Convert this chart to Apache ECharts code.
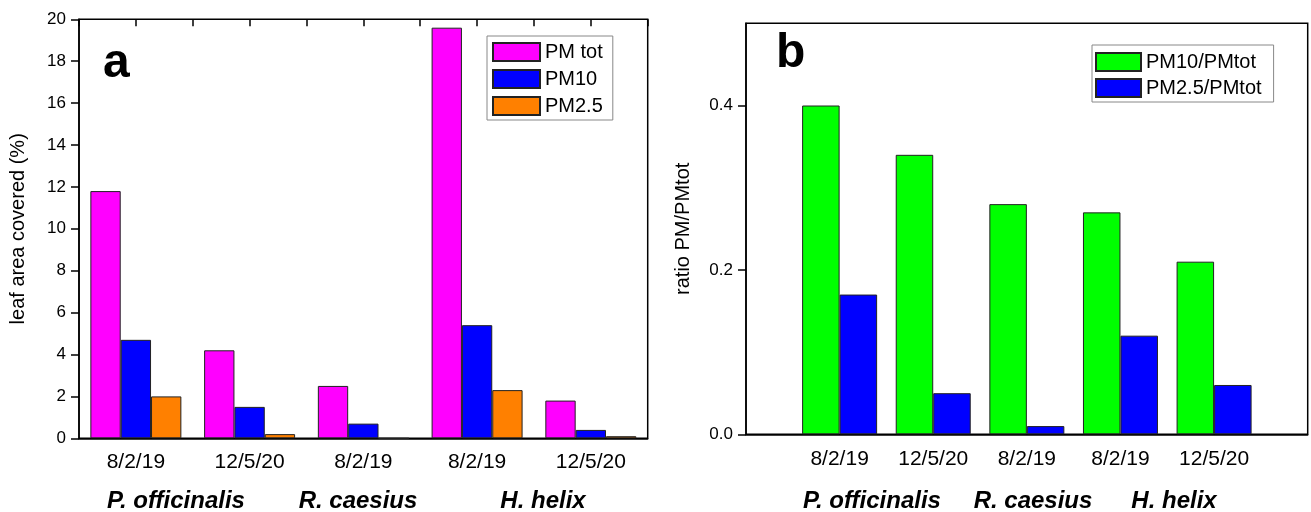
<!DOCTYPE html>
<html><head><meta charset="utf-8">
<script src="https://cdn.jsdelivr.net/npm/echarts@6/dist/echarts.min.js"></script>
<style>html,body{margin:0;padding:0;background:#fff}#c{width:1311px;height:512px}</style>
</head><body><div id="c"></div>
<script>
// ---- data ----
const datesA = ['8/2/19', '12/5/20', '8/2/19', '8/2/19', '12/5/20'];
const pmTot  = [11.8, 4.2, 2.5, 19.6, 1.8];
const pm10   = [4.7, 1.5, 0.7, 5.4, 0.4];
const pm25   = [2.0, 0.2, 0, 2.3, 0.1];
const datesB = ['8/2/19', '12/5/20', '8/2/19', '8/2/19', '12/5/20'];
const ratio10 = [0.40, 0.34, 0.28, 0.27, 0.21];
const ratio25 = [0.17, 0.05, 0.01, 0.12, 0.06];
const yTicksB = [0, 0.2, 0.4];
const speciesA = ['P. officinalis', 'R. caesius', 'H. helix'];
const speciesB = ['P. officinalis', 'R. caesius', 'H. helix'];

const FF = '"Liberation Sans", Arial, sans-serif';
const chart = echarts.init(document.getElementById('c'));
const border = {borderColor: '#222', borderWidth: 1};

const spPosA = [176, 358, 543];
const spPosB = [872, 1033, 1174];
const graphics = [
  {type: 'text', left: 103, top: 40, style: {text: 'a', font: 'bold 48px ' + FF, fill: '#000'}},
  {type: 'text', left: 776, top: 30, style: {text: 'b', font: 'bold 48px ' + FF, fill: '#000'}}
];
speciesA.forEach((s, i) => graphics.push({type: 'text', x: spPosA[i], y: 501,
  style: {text: s, font: 'italic bold 24px ' + FF, fill: '#000', align: 'center', verticalAlign: 'middle'}}));
speciesB.forEach((s, i) => graphics.push({type: 'text', x: spPosB[i], y: 501,
  style: {text: s, font: 'italic bold 24px ' + FF, fill: '#000', align: 'center', verticalAlign: 'middle'}}));

chart.setOption({
  animation: false,
  backgroundColor: '#fff',
  textStyle: {fontFamily: FF, color: '#000'},
  grid: [
    {left: 79, right: 663.3, top: 19.3, bottom: 73.7, show: true, borderColor: '#000', borderWidth: 1.5, backgroundColor: 'transparent'},
    {left: 746, right: 3.3, top: 23.3, bottom: 77.7, show: true, borderColor: '#000', borderWidth: 1.5, backgroundColor: 'transparent'}
  ],
  legend: [
    {orient: 'vertical', left: 487, top: 36, itemWidth: 47, itemHeight: 18, itemGap: 7,
     padding: [6, 10, 4, 5], borderColor: '#888', borderWidth: 1,
     icon: 'rect', data: ['PM tot', 'PM10', 'PM2.5'],
     textStyle: {fontSize: 20, color: '#000', fontFamily: FF}},
    {orient: 'vertical', left: 1092, top: 45, itemWidth: 45, itemHeight: 18, itemGap: 6,
     padding: [7, 12, 4, 3], borderColor: '#888', borderWidth: 1,
     icon: 'rect', data: ['PM10/PMtot', 'PM2.5/PMtot'],
     textStyle: {fontSize: 20, color: '#000', fontFamily: FF}}
  ],
  xAxis: [
    {gridIndex: 0, type: 'category', data: datesA,
     axisLine: {lineStyle: {color: '#000', width: 1.5}}, axisTick: {show: false},
     axisLabel: {fontSize: 21, color: '#000', margin: 13, fontFamily: FF, interval: 0}},
    {gridIndex: 0, type: 'category', position: 'top', data: new Array(datesA.length * 2).fill(''),
     axisLine: {show: false},
     axisTick: {show: true, inside: true, length: 7, interval: 0, lineStyle: {color: '#000', width: 1.5}},
     axisLabel: {show: false}},
    {gridIndex: 1, type: 'category', boundaryGap: false, data: [''].concat(datesB, ['']),
     axisLine: {lineStyle: {color: '#000', width: 1.5}}, axisTick: {show: false},
     axisLabel: {fontSize: 21, color: '#000', margin: 14, fontFamily: FF, interval: 0}}
  ],
  yAxis: [
    {gridIndex: 0, type: 'value', min: 0, max: 20, interval: 2,
     name: 'leaf area covered (%)', nameLocation: 'middle', nameGap: 51,
     nameTextStyle: {fontSize: 20, color: '#000', fontFamily: FF},
     axisLine: {show: true, lineStyle: {color: '#000', width: 1.5}},
     axisTick: {show: true, length: 8, lineStyle: {color: '#000', width: 1.5}},
     axisLabel: {fontSize: 17, color: '#000', margin: 13, fontFamily: FF},
     splitLine: {show: false}},
    {gridIndex: 1, type: 'value', min: 0, max: 0.5, interval: 0.1,
     name: 'ratio PM/PMtot', nameLocation: 'middle', nameGap: 53,
     nameTextStyle: {fontSize: 20, color: '#000', fontFamily: FF},
     axisLine: {show: true, lineStyle: {color: '#000', width: 1.5}},
     axisTick: {show: true, length: 8, customValues: yTicksB, lineStyle: {color: '#000', width: 1.5}},
     axisLabel: {fontSize: 17, color: '#000', margin: 13, fontFamily: FF, customValues: yTicksB,
                 formatter: v => Number(v).toFixed(1)},
     splitLine: {show: false}}
  ],
  series: [
    {name: 'PM tot', type: 'bar', xAxisIndex: 0, yAxisIndex: 0, data: pmTot,
     barGap: '0%', barCategoryGap: '20%', itemStyle: Object.assign({color: '#FF00FF'}, border)},
    {name: 'PM10', type: 'bar', xAxisIndex: 0, yAxisIndex: 0, data: pm10,
     barGap: '0%', barCategoryGap: '20%', itemStyle: Object.assign({color: '#0000FF'}, border)},
    {name: 'PM2.5', type: 'bar', xAxisIndex: 0, yAxisIndex: 0, data: pm25,
     barGap: '0%', barCategoryGap: '20%', itemStyle: Object.assign({color: '#FF8000'}, border)},
    {name: 'PM10/PMtot', type: 'bar', xAxisIndex: 2, yAxisIndex: 1, data: [null].concat(ratio10, [null]),
     barWidth: 37.5, barGap: '0%', itemStyle: Object.assign({color: '#00FF00'}, border)},
    {name: 'PM2.5/PMtot', type: 'bar', xAxisIndex: 2, yAxisIndex: 1, data: [null].concat(ratio25, [null]),
     barWidth: 37.5, barGap: '0%', itemStyle: Object.assign({color: '#0000FF'}, border)}
  ],
  graphic: graphics
});
</script></body></html>
